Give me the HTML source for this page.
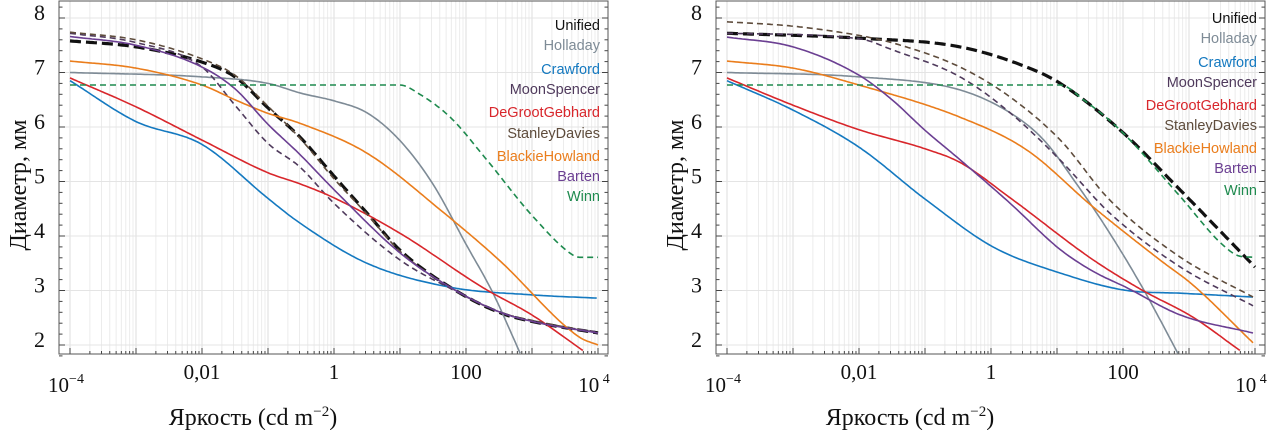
<!DOCTYPE html>
<html><head><meta charset="utf-8"><style>
html,body{margin:0;padding:0;background:#fff;width:1275px;height:430px;overflow:hidden}
svg{display:block}
text{font-family:"Liberation Serif",serif}
.lg{font-family:"Liberation Sans",sans-serif;font-size:14.5px}
</style></head><body>
<svg id="chart" width="1275" height="430"></svg>
<script>
// ---- data (x = log10 luminance, y = diameter mm) ----
const seriesNames = ["Unified","Holladay","Crawford","MoonSpencer","DeGrootGebhard","StanleyDavies","BlackieHowland","Barten","Winn"];
const seriesColors = ["#111111","#7e8b96","#1479c0","#4f3a5c","#d8262b","#5e4c3c","#ea7d1c","#6b3f92","#1e8a4e"];
const seriesDash = [true,false,false,true,false,true,false,false,true];
const xTickValues = [-4,-2,0,2,4];
const xTickLabels = ["10","0,01","1","100","10"];
const yTickValues = [2,3,4,5,6,7,8];

// left panel
const L_Unified_x = [-4,-3,-2,-1.5,-1,-0.52,0,0.5,1,1.76,2.52,3.13,4];
const L_Unified_y = [7.58,7.47,7.19,6.92,6.35,5.82,5.1,4.42,3.74,3.06,2.59,2.4,2.22];
const L_Holladay_x = [-4,-2,-1,-0.5,0,0.5,1,1.5,2,2.41,2.82];
const L_Holladay_y = [7.0,6.92,6.8,6.62,6.48,6.26,5.75,4.95,3.85,2.95,1.85];
const L_Crawford_x = [-4,-3,-2,-1,-0.52,0.5,1.76,3,3.98];
const L_Crawford_y = [6.85,6.1,5.68,4.69,4.24,3.5,3.06,2.92,2.86];
const L_MoonSpencer_x = [-4,-3,-2,-1.5,-1,-0.52,0,1,1.76,2.52,3.13,4];
const L_MoonSpencer_y = [7.72,7.55,7.1,6.4,5.7,5.27,4.6,3.56,3.04,2.6,2.4,2.24];
const L_DeGroot_x = [-4,-3,-2,-1,-0.5,0,1,2.26,3,3.77];
const L_DeGroot_y = [6.9,6.37,5.76,5.16,4.95,4.7,4.05,3.05,2.55,1.9];
const L_Stanley_x = [-4,-3,-2,-1.5,-1,-0.52,0,0.5,1,1.76,2.52,3.13,4];
const L_Stanley_y = [7.74,7.6,7.25,6.95,6.38,5.8,5.05,4.4,3.72,3.06,2.6,2.42,2.22];
const L_Blackie_x = [-4,-3,-2,-1.5,-1,-0.52,0.5,1.65,2.5,3.71,4];
const L_Blackie_y = [7.21,7.08,6.77,6.5,6.25,6.07,5.52,4.44,3.56,2.15,2.0];
const L_Barten_x = [-4,-3,-2,-1.5,-1,-0.52,0,1,1.76,2.52,3.13,4];
const L_Barten_y = [7.66,7.5,7.1,6.7,6.05,5.5,4.85,3.69,3.06,2.6,2.4,2.22];
const L_Winn_x = [-4,1.0,1.3,1.76,2.32,3.02,3.62,3.72,4];
const L_Winn_y = [6.77,6.77,6.6,6.18,5.39,4.35,3.65,3.61,3.61];

// right panel
const R_Unified_x = [-4,-2,-0.47,0.54,1.05,1.96,2.87,4];
const R_Unified_y = [7.72,7.63,7.47,7.1,6.8,5.94,4.84,3.43];
const R_Holladay_x = [-4,-2,-0.47,0.29,0.8,1.3,1.8,2.32,2.83];
const R_Holladay_y = [7.0,6.92,6.68,6.26,5.76,4.95,4.05,3.0,1.85];
const R_Crawford_x = [-4,-3,-2,-0.98,0.03,1.05,2.06,2.87,3.97];
const R_Crawford_y = [6.85,6.31,5.63,4.66,3.8,3.32,3.0,2.95,2.88];
const R_MoonSpencer_x = [-4,-2,-1.48,-0.47,0.29,1.05,1.8,2.87,3.97];
const R_MoonSpencer_y = [7.72,7.62,7.41,6.92,6.26,5.39,4.42,3.43,2.72];
const R_DeGroot_x = [-4,-3,-2,-1,-0.47,0.29,1.55,2.3,3.06,3.77];
const R_DeGroot_y = [6.9,6.4,5.95,5.6,5.35,4.7,3.56,3.0,2.51,1.9];
const R_Stanley_x = [-4,-3,-2,-1.48,-0.47,0.29,1.05,1.8,2.87,3.97];
const R_Stanley_y = [7.93,7.85,7.68,7.54,7.1,6.55,5.76,4.66,3.61,2.88];
const R_Blackie_x = [-4,-3,-2,-0.47,0.54,1.55,2.56,3.06,3.97];
const R_Blackie_y = [7.21,7.08,6.77,6.18,5.58,4.53,3.56,3.1,2.04];
const R_Barten_x = [-4,-3,-2,-1.5,-1,-0.47,0.29,1.05,1.55,2.06,2.87,3.97];
const R_Barten_y = [7.65,7.47,6.95,6.5,5.94,5.4,4.6,3.75,3.35,3.05,2.55,2.22];
const R_Winn_x = [-4,1.05,1.4,1.96,2.87,3.5,3.77,4];
const R_Winn_y = [6.77,6.77,6.5,5.94,4.72,3.85,3.63,3.61];

const leftSeries = [[L_Unified_x,L_Unified_y],[L_Holladay_x,L_Holladay_y],[L_Crawford_x,L_Crawford_y],[L_MoonSpencer_x,L_MoonSpencer_y],[L_DeGroot_x,L_DeGroot_y],[L_Stanley_x,L_Stanley_y],[L_Blackie_x,L_Blackie_y],[L_Barten_x,L_Barten_y],[L_Winn_x,L_Winn_y]];
const rightSeries = [[R_Unified_x,R_Unified_y],[R_Holladay_x,R_Holladay_y],[R_Crawford_x,R_Crawford_y],[R_MoonSpencer_x,R_MoonSpencer_y],[R_DeGroot_x,R_DeGroot_y],[R_Stanley_x,R_Stanley_y],[R_Blackie_x,R_Blackie_y],[R_Barten_x,R_Barten_y],[R_Winn_x,R_Winn_y]];

const NS = "http://www.w3.org/2000/svg";
const svg = document.getElementById("chart");
function mk(tag, attrs, parent) {
  const e = document.createElementNS(NS, tag);
  for (const k in attrs) e.setAttribute(k, attrs[k]);
  (parent || svg).appendChild(e);
  return e;
}
function monotone(xs, ys) {
  const n = xs.length, d = [], m = new Array(n);
  for (let i = 0; i < n - 1; i++) d.push((ys[i + 1] - ys[i]) / (xs[i + 1] - xs[i]));
  m[0] = d[0]; m[n - 1] = d[n - 2];
  for (let i = 1; i < n - 1; i++) m[i] = (d[i - 1] * d[i] <= 0) ? 0 : (d[i - 1] + d[i]) / 2;
  for (let i = 0; i < n - 1; i++) {
    if (d[i] === 0) { m[i] = 0; m[i + 1] = 0; continue; }
    const a = m[i] / d[i], b = m[i + 1] / d[i], s = a * a + b * b;
    if (s > 9) { const t = 3 / Math.sqrt(s); m[i] = t * a * d[i]; m[i + 1] = t * b * d[i]; }
  }
  const out = [];
  for (let i = 0; i < n - 1; i++) {
    const h = xs[i + 1] - xs[i], steps = Math.max(4, Math.ceil(h * 30));
    for (let k = 0; k < steps; k++) {
      const t = k / steps, t2 = t * t, t3 = t2 * t;
      const y = (2*t3 - 3*t2 + 1) * ys[i] + (t3 - 2*t2 + t) * h * m[i] + (-2*t3 + 3*t2) * ys[i + 1] + (t3 - t2) * h * m[i + 1];
      out.push([xs[i] + t * h, y]);
    }
  }
  out.push([xs[n - 1], ys[n - 1]]);
  return out;
}

function panel(off, series, legendTops, legendRight, idx) {
  const left = 59 + off, right = 608 + off, top = 1, bottom = 354;
  const X = l => 70 + off + (l + 4) * 66;
  const Y = v => 345 - (v - 2) * 54.5;
  const g = mk("g", {});
  
  
  const clipId = "clip" + idx;
  const cp = mk("clipPath", {id: clipId}, g);
  mk("rect", {x: left, y: top, width: right - left, height: bottom - top}, cp);
  const grid = mk("g", {stroke: "#e4e4e4", "stroke-width": 1}, g);
  
  
  for (let dcd = -4; dcd <= 4; dcd++) {
    for (let m = 1; m <= 9; m++) {
      if (dcd === 4 && m > 1) break;
      const x = X(dcd + Math.log10(m));
      mk("line", {x1: x, x2: x, y1: top, y2: bottom, stroke: m === 1 ? "#dcdcdc" : "#ececec"}, grid);
    }
  }
  yTickValues.forEach(v => mk("line", {x1: left, x2: right, y1: Y(v), y2: Y(v)}, grid));
  const ticks = mk("g", {stroke: "#444", "stroke-width": 1}, g);
  
  
  for (let v = 1.8; v <= 8.3; v += 0.2) {
    const y = Y(v), major = Math.abs(v - Math.round(v)) < 0.01;
    const len = major ? 6 : 3.5;
    mk("line", {x1: left, x2: left + len, y1: y, y2: y}, ticks);
    mk("line", {x1: right, x2: right - len, y1: y, y2: y}, ticks);
  }
  for (let dcd = -4; dcd <= 4; dcd++) {
    for (let m = 1; m <= 9; m++) {
      if (dcd === 4 && m > 1) break;
      const x = X(dcd + Math.log10(m)), len = m === 1 ? 6 : 3;
      mk("line", {x1: x, x2: x, y1: bottom, y2: bottom - len}, ticks);
    }
  }
  const sg = mk("g", {"clip-path": "url(#" + clipId + ")", fill: "none"}, g);
  series.forEach((s, i) => {
    const pts = monotone(s[0], s[1]).map(p => X(p[0]).toFixed(1) + "," + Y(p[1]).toFixed(1));
    const p = mk("polyline", {points: pts.join(" "), stroke: seriesColors[i], "stroke-width": i === 0 ? 3.2 : 1.6, "stroke-linejoin": "round"}, sg);
    if (seriesDash[i]) p.setAttribute("stroke-dasharray", i === 0 ? "11,5" : "6,4");
    
    
  });
  const fr = mk("rect", {x: left, y: top, width: right - left, height: bottom - top, fill: "none", stroke: "#555", "stroke-width": 1}, g);
  
  
  yTickValues.forEach(v => {
    const t = mk("text", {x: left - 14, y: Y(v) - 3, "font-size": 22, "text-anchor": "end", "dominant-baseline": "middle", fill: "#111"}, g);
    t.textContent = v;
    
    
  });
  xTickValues.forEach((l, k) => {
    const edge = (k === 0 || k === xTickValues.length - 1);
    const t = mk("text", {x: X(l) - (edge ? 4 : 0), y: edge ? 392 : 379, "font-size": 21, "text-anchor": "middle", fill: "#111"}, g);
    t.textContent = xTickLabels[k];
    if (edge) {
      const sup = mk("tspan", {dy: -9, "font-size": 14}, t);
      sup.textContent = l < 0 ? "\u2212" + Math.abs(l) : " " + l;
    }
    
    
  });
  const yt = mk("text", {x: 0, y: 0, "font-size": 24, "text-anchor": "middle", transform: "translate(" + (26 + off) + ",185) rotate(-90)", fill: "#111"}, g);
  yt.textContent = "Диаметр, мм";
  
  
  const xt = mk("text", {x: 253 + off, y: 425, "font-size": 24, "text-anchor": "middle", fill: "#111"}, g);
  xt.textContent = "Яркость (cd m";
  const s2 = mk("tspan", {dy: -9, "font-size": 15}, xt);
  s2.textContent = "\u22122";
  const s3 = mk("tspan", {dy: 9}, xt);
  s3.textContent = ")";
  
  
  const lg = mk("g", {}, g);
  
  
  seriesNames.forEach((n, i) => {
    const t = mk("text", {x: legendRight, y: legendTops[i] + 5, "text-anchor": "end", fill: seriesColors[i], class: "lg"}, lg);
    t.textContent = n;
    
    
  });
}
panel(0, leftSeries, [25,45,69,89,112,133,156,176,196], 600, 1);
panel(657, rightSeries, [18,38,62,82,105,125,148,168,190], 1257, 2);
</script>
</body></html>
